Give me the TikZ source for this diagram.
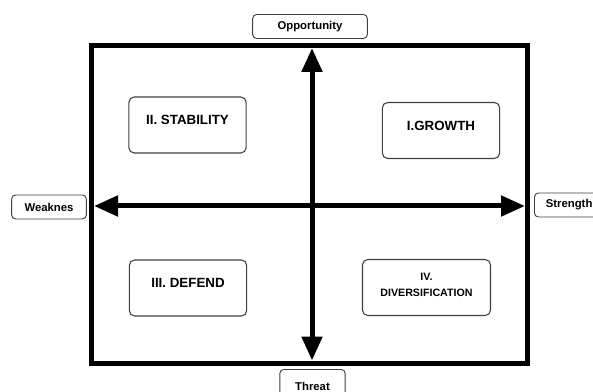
\documentclass[tikz,border=0pt]{standalone}
\usepackage{fontspec}
\setmainfont{Liberation Sans}
\usetikzlibrary{positioning, arrows.meta}

\begin{document}
\begin{tikzpicture}[x=0.75pt,y=-0.75pt,>={Triangle[length=18pt,width=15pt]},
    quad/.style={draw=black!75,line width=0.8pt,rounded corners=4pt,fill=white,
        minimum width=88pt,minimum height=42pt,align=center,
        font=\bfseries\fontsize{10}{13}\selectfont,text depth=7pt},
    tag/.style={draw=black!75,line width=0.7pt,rounded corners=3pt,fill=white,
        minimum height=18pt,font=\bfseries\fontsize{8.5}{10}\selectfont}]
  \useasboundingbox (0,0) rectangle (593,392);
  \clip (0,0) rectangle (593,392);
  % frame
  \draw[line width=3.75pt] (91.5,45.5) rectangle (527.5,363);
  \coordinate (top) at (312,48);
  \coordinate (bot) at (312,360.5);
  \coordinate (lft) at (94,206);
  \coordinate (rgt) at (525,206);
  % axes
  \draw[<->,line width=3.75pt] (top) -- (bot);
  \draw[<->,line width=3.75pt] (lft) -- (rgt);
  % axis labels
  \node[tag,minimum width=86pt] (opp) at (310,26.5) {Opportunity};
  \node[tag,minimum width=56pt] (weak) at (49,207) {Weaknes};
  \node[tag,minimum width=52pt,anchor=west] (str) at (534,205) {Strength};
  \node[tag,minimum width=49pt,minimum height=25pt,anchor=north] (thr) at (312.5,369) {Threat};
  % quadrants
  \node[quad] (stab) at (187.5,125) {II. STABILITY};
  \node[quad] (grow) at (441,130.5) {I.GROWTH};
  \node[quad] (def) at (188,288) {III. DEFEND};
  \node[quad,minimum width=96pt,font=\bfseries\fontsize{8}{12.5}\selectfont,
        text depth=4pt] (div) at (426.5,287.5) {IV.\\ DIVERSIFICATION};
\end{tikzpicture}
\end{document}
